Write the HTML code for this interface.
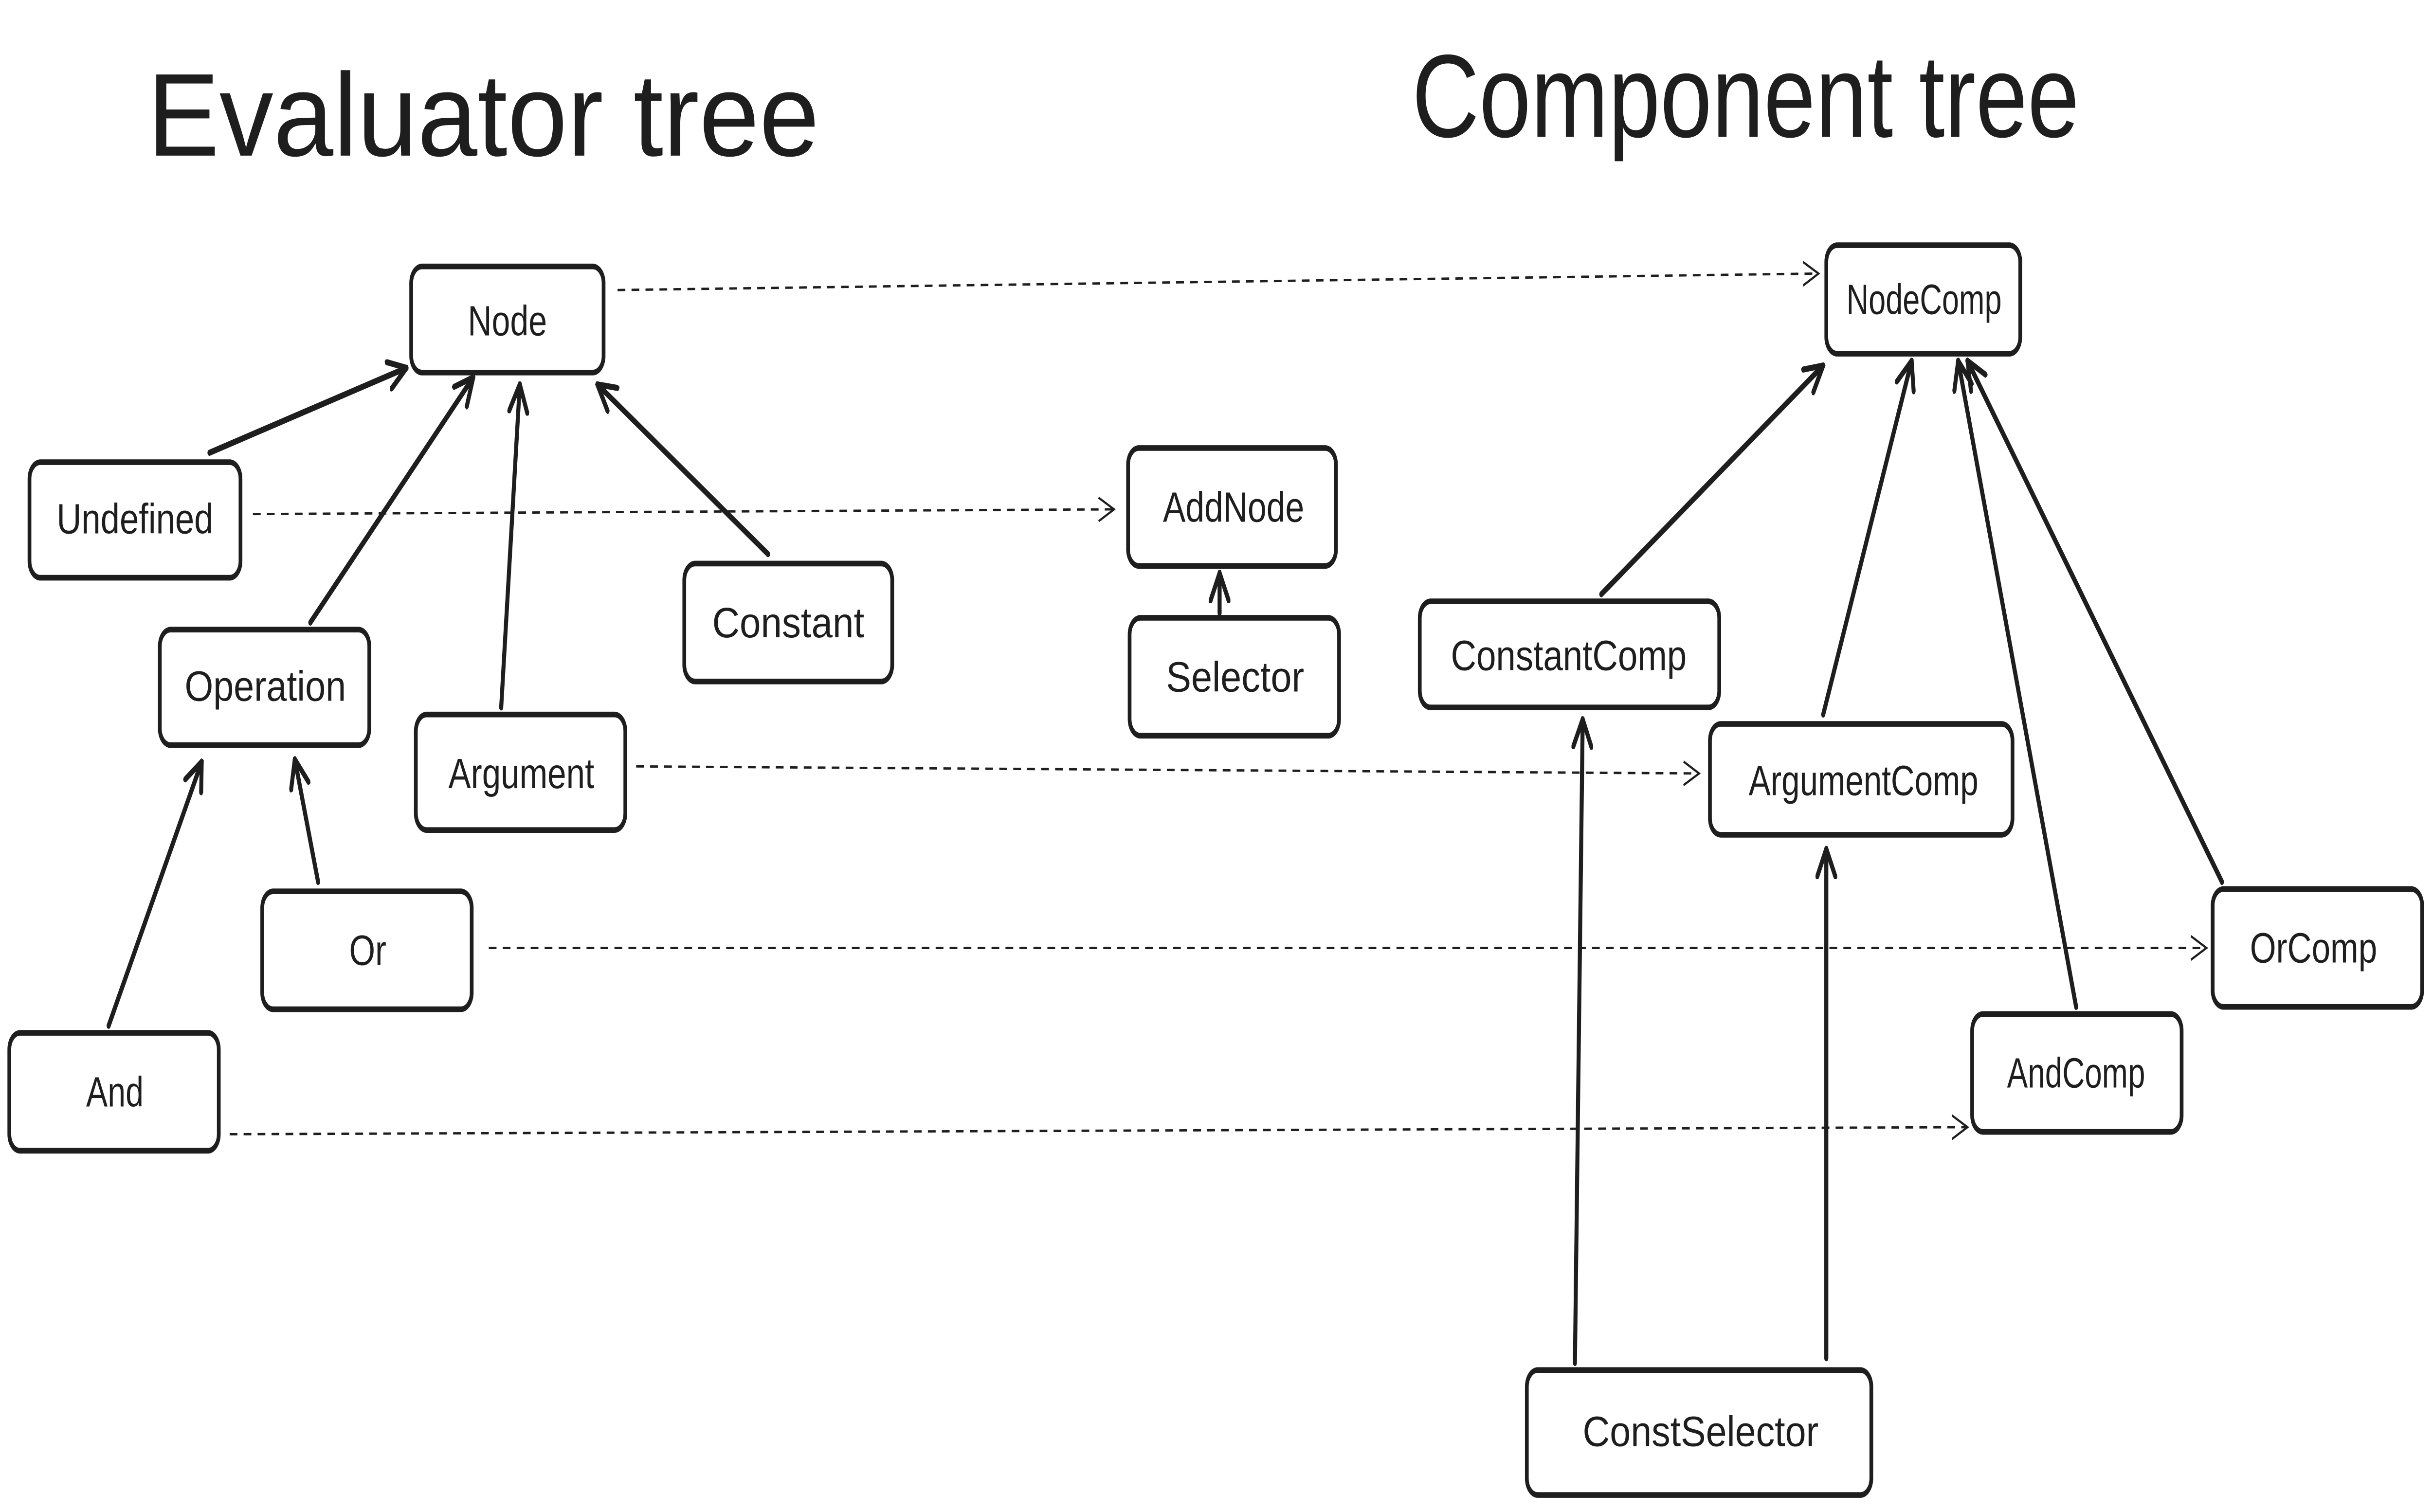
<!DOCTYPE html>
<html><head><meta charset="utf-8"><style>
html,body{margin:0;padding:0;background:#fff;width:100%;height:100%;overflow:hidden;}
svg{display:block;width:100vw;height:100vh;}
text{font-family:"Liberation Sans","DejaVu Sans",sans-serif;fill:#1e1e1e;}
.b{fill:#fff;stroke:#1e1e1e;stroke-width:2.4;}
.l{font-size:18px;text-anchor:middle;dominant-baseline:central;}
.s{stroke:#1e1e1e;stroke-width:2.6;fill:none;stroke-linecap:round;}
.d{stroke:#1e1e1e;stroke-width:1;fill:none;stroke-dasharray:5 4;}
</style></head><body>
<svg viewBox="0 0 1568 641.2" preserveAspectRatio="none" xmlns="http://www.w3.org/2000/svg">
<defs>
<marker id="a" viewBox="0 0 12 12" refX="11" refY="6" markerWidth="12" markerHeight="12" orient="auto" markerUnits="userSpaceOnUse"><path d="M1,1 L11,6 L1,11" fill="none" stroke="#1e1e1e" stroke-width="1"/></marker>
<marker id="h" viewBox="0 0 12 12" refX="11" refY="6" markerWidth="14" markerHeight="14" orient="auto" markerUnits="userSpaceOnUse"><path d="M1,1 L11,6 L1,11" fill="none" stroke="#1e1e1e" stroke-width="2.2" stroke-linecap="round"/></marker>
</defs>
<text x="95" y="66" textLength="433" lengthAdjust="spacingAndGlyphs" style="font-size:50px">Evaluator tree</text>
<text x="910" y="58" textLength="430" lengthAdjust="spacingAndGlyphs" style="font-size:50px">Component tree</text>

<g class="d">
<line x1="398" y1="123" x2="1172" y2="116" marker-end="url(#a)"/>
<line x1="163" y1="218" x2="718" y2="216" marker-end="url(#a)"/>
<line x1="410" y1="325" x2="1095" y2="328" marker-end="url(#a)"/>
<line x1="315" y1="402" x2="1422" y2="402" marker-end="url(#a)"/>
<line x1="148" y1="481" x2="1268" y2="478" marker-end="url(#a)"/>
</g>
<g class="s">
<line x1="135" y1="192" x2="262" y2="156" marker-end="url(#h)"/>
<line x1="200" y1="264" x2="305" y2="160" marker-end="url(#h)"/>
<line x1="323" y1="300" x2="335" y2="163" marker-end="url(#h)"/>
<line x1="495" y1="235" x2="385" y2="163" marker-end="url(#h)"/>
<line x1="70" y1="435" x2="130" y2="323" marker-end="url(#h)"/>
<line x1="205" y1="374" x2="190" y2="322" marker-end="url(#h)"/>
<line x1="786" y1="260" x2="786" y2="243" marker-end="url(#h)"/>
<line x1="1032" y1="252" x2="1175" y2="155" marker-end="url(#h)"/>
<line x1="1175" y1="303" x2="1232" y2="153" marker-end="url(#h)"/>
<line x1="1338" y1="427" x2="1262" y2="153" marker-end="url(#h)"/>
<line x1="1432" y1="374" x2="1268" y2="153" marker-end="url(#h)"/>
<line x1="1015" y1="578" x2="1020" y2="305" marker-end="url(#h)"/>
<line x1="1177" y1="576" x2="1177" y2="360" marker-end="url(#h)"/>
</g>

<g>
<rect class="b" x="265" y="113" width="124" height="45" rx="7"/><text class="l" x="327" y="136" textLength="51" lengthAdjust="spacingAndGlyphs">Node</text>
<rect class="b" x="19" y="196" width="136" height="49" rx="7"/><text class="l" x="87" y="220" textLength="101" lengthAdjust="spacingAndGlyphs">Undefined</text>
<rect class="b" x="103" y="267" width="135" height="49" rx="7"/><text class="l" x="171" y="291" textLength="104" lengthAdjust="spacingAndGlyphs">Operation</text>
<rect class="b" x="268" y="303" width="135" height="49" rx="7"/><text class="l" x="336" y="328" textLength="94" lengthAdjust="spacingAndGlyphs">Argument</text>
<rect class="b" x="441" y="239" width="134" height="50" rx="7"/><text class="l" x="508" y="264" textLength="98" lengthAdjust="spacingAndGlyphs">Constant</text>
<rect class="b" x="169" y="378" width="135" height="50" rx="7"/><text class="l" x="237" y="403" textLength="24" lengthAdjust="spacingAndGlyphs">Or</text>
<rect class="b" x="6" y="438" width="135" height="50" rx="7"/><text class="l" x="74" y="463" textLength="37" lengthAdjust="spacingAndGlyphs">And</text>
<rect class="b" x="727" y="190" width="134" height="50" rx="7"/><text class="l" x="795" y="215" textLength="91" lengthAdjust="spacingAndGlyphs">AddNode</text>
<rect class="b" x="728" y="262" width="135" height="50" rx="7"/><text class="l" x="796" y="287" textLength="89" lengthAdjust="spacingAndGlyphs">Selector</text>
<rect class="b" x="1177" y="104" width="125" height="46" rx="7"/><text class="l" x="1240" y="127" textLength="100" lengthAdjust="spacingAndGlyphs">NodeComp</text>
<rect class="b" x="915" y="255" width="193" height="45" rx="7"/><text class="l" x="1011" y="278" textLength="152" lengthAdjust="spacingAndGlyphs">ConstantComp</text>
<rect class="b" x="1102" y="307" width="195" height="47" rx="7"/><text class="l" x="1201" y="331" textLength="148" lengthAdjust="spacingAndGlyphs">ArgumentComp</text>
<rect class="b" x="1426" y="377" width="135" height="50" rx="7"/><text class="l" x="1491" y="402" textLength="82" lengthAdjust="spacingAndGlyphs">OrComp</text>
<rect class="b" x="1271" y="430" width="135" height="50" rx="7"/><text class="l" x="1338" y="455" textLength="89" lengthAdjust="spacingAndGlyphs">AndComp</text>
<rect class="b" x="984" y="581" width="222" height="53" rx="7"/><text class="l" x="1096" y="607" textLength="152" lengthAdjust="spacingAndGlyphs">ConstSelector</text>
</g>
</svg>
</body></html>
